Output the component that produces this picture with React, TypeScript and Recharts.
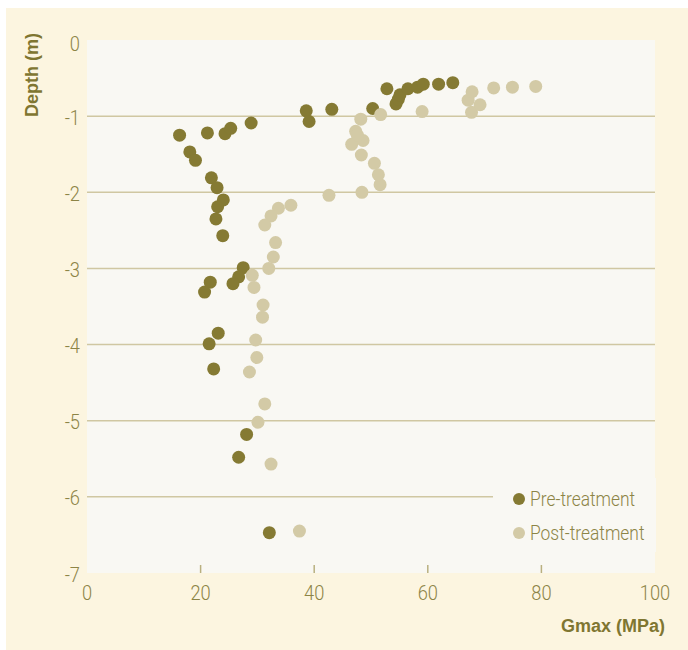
import { ScatterChart, Scatter, XAxis, YAxis, CartesianGrid, Legend } from 'recharts';

// axis ticks
const xTicks = [0, 20, 40, 60, 80, 100];
const yTicks = [0, -1, -2, -3, -4, -5, -6, -7];
const gridDepths = [-1, -2, -3, -4, -5, -6];
const seriesOrder = ['Pre-treatment', 'Post-treatment'];

// Gmax (MPa) vs depth (m)
const preTreatment = [
  { gmax: 16.3, depth: -1.25 }, { gmax: 21.2, depth: -1.22 }, { gmax: 24.3, depth: -1.23 },
  { gmax: 25.3, depth: -1.16 }, { gmax: 28.9, depth: -1.09 }, { gmax: 18.1, depth: -1.47 },
  { gmax: 19.1, depth: -1.58 }, { gmax: 21.9, depth: -1.81 }, { gmax: 22.9, depth: -1.94 },
  { gmax: 24.0, depth: -2.1 }, { gmax: 23.0, depth: -2.19 }, { gmax: 22.7, depth: -2.35 },
  { gmax: 23.9, depth: -2.57 }, { gmax: 27.5, depth: -2.99 }, { gmax: 26.7, depth: -3.11 },
  { gmax: 25.7, depth: -3.2 }, { gmax: 21.7, depth: -3.18 }, { gmax: 20.7, depth: -3.31 },
  { gmax: 23.1, depth: -3.85 }, { gmax: 21.5, depth: -3.99 }, { gmax: 22.3, depth: -4.32 },
  { gmax: 28.1, depth: -5.18 }, { gmax: 26.7, depth: -5.48 }, { gmax: 32.1, depth: -6.47 },
  { gmax: 38.6, depth: -0.93 }, { gmax: 39.1, depth: -1.07 }, { gmax: 43.1, depth: -0.91 },
  { gmax: 50.3, depth: -0.9 }, { gmax: 52.8, depth: -0.64 }, { gmax: 54.4, depth: -0.84 },
  { gmax: 54.8, depth: -0.78 }, { gmax: 55.1, depth: -0.72 }, { gmax: 56.5, depth: -0.64 },
  { gmax: 58.2, depth: -0.62 }, { gmax: 59.2, depth: -0.58 }, { gmax: 61.9, depth: -0.58 },
  { gmax: 64.4, depth: -0.56 },
];

const postTreatment = [
  { gmax: 35.9, depth: -2.17 }, { gmax: 33.7, depth: -2.21 }, { gmax: 32.4, depth: -2.31 },
  { gmax: 31.3, depth: -2.43 }, { gmax: 33.2, depth: -2.66 }, { gmax: 32.8, depth: -2.85 },
  { gmax: 32.0, depth: -3.0 }, { gmax: 29.1, depth: -3.09 }, { gmax: 29.4, depth: -3.25 },
  { gmax: 31.0, depth: -3.48 }, { gmax: 30.9, depth: -3.64 }, { gmax: 29.7, depth: -3.94 },
  { gmax: 29.9, depth: -4.17 }, { gmax: 28.6, depth: -4.36 }, { gmax: 31.3, depth: -4.78 },
  { gmax: 30.1, depth: -5.02 }, { gmax: 32.4, depth: -5.57 }, { gmax: 37.4, depth: -6.45 },
  { gmax: 42.6, depth: -2.04 }, { gmax: 48.4, depth: -2.0 }, { gmax: 51.6, depth: -1.9 },
  { gmax: 51.3, depth: -1.77 }, { gmax: 50.6, depth: -1.62 }, { gmax: 48.3, depth: -1.51 },
  { gmax: 46.6, depth: -1.37 }, { gmax: 48.6, depth: -1.32 }, { gmax: 47.3, depth: -1.2 },
  { gmax: 47.6, depth: -1.25 }, { gmax: 48.2, depth: -1.04 }, { gmax: 51.7, depth: -0.98 },
  { gmax: 59.0, depth: -0.94 }, { gmax: 67.7, depth: -0.95 }, { gmax: 69.2, depth: -0.85 },
  { gmax: 67.1, depth: -0.79 }, { gmax: 67.8, depth: -0.68 }, { gmax: 71.6, depth: -0.63 },
  { gmax: 74.9, depth: -0.62 }, { gmax: 79.0, depth: -0.61 },
];

const PRE = '#857a33';
const POST = '#d3caa6';
const TICK = '#8c8446';
const LABEL = '#7f7631';
const CREAM = '#fcf5e0';
const PLOT_BG = '#f9f8f3';
const GRID = '#d0c7a2';
const THIN = "Roboto, 'DejaVu Sans Condensed', sans-serif";
const BOLD = "'Liberation Sans', Arial, sans-serif";

const Dot = (color: string) => (props: any) =>
  <circle cx={props.cx} cy={props.cy} r={6.5} fill={color} />;

// light condensed text, squeezed horizontally around its anchor point
function Thin({ x, y, anchor = 'start', size = 21, children }: any) {
  return (
    <text
      transform={`translate(${x},${y}) scale(0.87,1)`}
      textAnchor={anchor}
      fill={TICK}
      fontSize={size}
      fontWeight={300}
      fontFamily={THIN}
    >
      {children}
    </text>
  );
}

function XTick({ x, y, payload }: any) {
  const v = payload.value;
  return (
    <g>
      {v > 0 && v < 100 && (
        <line x1={x} x2={x} y1={y - 8} y2={y} stroke="#b9b07f" strokeWidth={1.5} />
      )}
      <Thin x={x} y={y + 27} anchor="middle">{v}</Thin>
    </g>
  );
}

function YTick({ x, y, payload }: any) {
  const shift = payload.value === 0 ? 11 : 8.5;
  return <Thin x={x} y={y + shift} anchor="end">{payload.value}</Thin>;
}

function LegendBox({ payload }: any) {
  const items = [...(payload || [])].sort(
    (a: any, b: any) => seriesOrder.indexOf(a.value) - seriesOrder.indexOf(b.value),
  );
  return (
    <div style={{ position: 'absolute', left: 0, top: 0, width: 163, height: 74, background: PLOT_BG }}>
      <svg width={163} height={74} style={{ overflow: 'visible' }}>
        {items.map((entry: any, i: number) => (
          <g key={i}>
            <circle cx={26} cy={21 + i * 34} r={6} fill={entry.color} />
            <Thin x={37} y={28 + i * 34} size={20}>{entry.value}</Thin>
          </g>
        ))}
      </svg>
    </div>
  );
}

export default function App() {
  return (
    <div style={{ position: 'absolute', left: 0, top: 0, width: 688, height: 650, background: '#fff' }}>
      <div style={{ position: 'absolute', left: 6, top: 8, width: 682, height: 642, background: CREAM }} />
      <div style={{ position: 'absolute', left: 0, top: 0 }}>
        <ScatterChart width={688} height={650} margin={{ top: 40, right: 33, bottom: 47, left: 0 }}>
          <CartesianGrid
            vertical={false}
            horizontalValues={gridDepths}
            fill={PLOT_BG}
            fillOpacity={1}
            stroke={GRID}
            strokeWidth={1.5}
          />
          <XAxis
            type="number"
            dataKey="gmax"
            domain={[0, 100]}
            ticks={xTicks}
            interval={0}
            axisLine={false}
            tickLine={false}
            tickSize={0}
            tickMargin={0}
            height={30}
            tick={<XTick />}
          />
          <YAxis
            type="number"
            dataKey="depth"
            domain={[-7, 0]}
            ticks={yTicks}
            interval={0}
            axisLine={false}
            tickLine={false}
            tickSize={0}
            tickMargin={7}
            width={87}
            tick={<YTick />}
          />
          <Legend
            layout="vertical"
            align="right"
            verticalAlign="top"
            content={<LegendBox />}
            wrapperStyle={{ left: 493, top: 478, width: 0, height: 0, overflow: 'visible' }}
          />
          <Scatter name="Pre-treatment" data={preTreatment} fill={PRE} shape={Dot(PRE)} isAnimationActive={false} />
          <Scatter name="Post-treatment" data={postTreatment} fill={POST} shape={Dot(POST)} isAnimationActive={false} />
          <text x={0} y={0} transform="translate(38, 75) rotate(-90)" textAnchor="middle" fill={LABEL}
            fontSize={18} fontWeight="bold" fontFamily={BOLD}>
            Depth (m)
          </text>
          <text x={665} y={632} textAnchor="end" fill={LABEL} fontSize={18} fontWeight="bold" fontFamily={BOLD}>
            Gmax (MPa)
          </text>
        </ScatterChart>
      </div>
    </div>
  );
}
